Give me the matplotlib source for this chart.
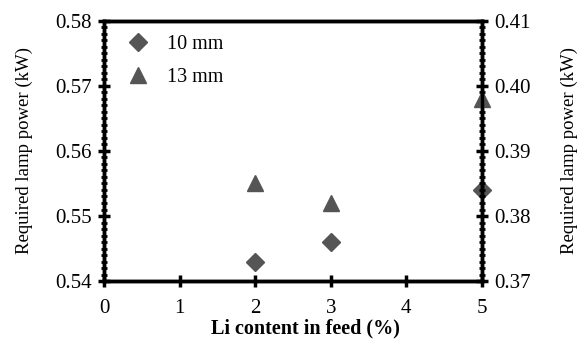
import numpy as np
import matplotlib.pyplot as plt
from matplotlib.ticker import MultipleLocator

plt.rcParams['font.family'] = ['Liberation Serif', 'DejaVu Serif']

li_content = [2, 3, 5]
power_10mm = [0.543, 0.546, 0.554]
power_13mm = [0.385, 0.382, 0.398]

gray = '#555555'

fig, ax = plt.subplots(figsize=(5.82, 3.47), dpi=100)
fig.subplots_adjust(left=0.179, right=0.828, top=0.94, bottom=0.19)
ax2 = ax.twinx()

p1, = ax.plot(li_content, power_10mm, 'D', color=gray, ms=9, clip_on=False,
              linestyle='none', label='10 mm')
p2, = ax2.plot(li_content, power_13mm, '^', color=gray, ms=12, clip_on=False,
               linestyle='none', label='13 mm')

ax.set_xlim(0, 5)
ax.set_ylim(0.54, 0.58)
ax2.set_ylim(0.37, 0.41)
ax.set_xticks(np.arange(0, 6, 1))
ax.set_yticks(np.arange(0.54, 0.5801, 0.01))
ax2.set_yticks(np.arange(0.37, 0.4101, 0.01))
ax.set_yticklabels(['0.54', '0.55', '0.56', '0.57', '0.58'])
ax2.set_yticklabels(['0.37', '0.38', '0.39', '0.40', '0.41'])
ax.yaxis.set_minor_locator(MultipleLocator(0.001))
ax2.yaxis.set_minor_locator(MultipleLocator(0.001))

for a in (ax, ax2):
    for s in a.spines.values():
        s.set_linewidth(2.5)
    a.tick_params(which='major', direction='inout', length=8, width=2.5,
                  labelsize=15, pad=5)
    a.tick_params(which='minor', direction='inout', length=4, width=2)
ax.tick_params(axis='x', pad=9)

ax.set_xlabel('Li content in feed (%)', fontsize=14.5, fontweight='bold',
              labelpad=0, x=0.534)
ax.set_ylabel('Required lamp power (kW)', fontsize=13.5, labelpad=16)
ax2.set_ylabel('Required lamp power (kW)', fontsize=13.5, rotation=90,
               labelpad=21)

ax.legend([p1, p2], ['10 mm', '13 mm'], loc='upper left', frameon=False,
          prop={'size': 14.5}, handlelength=1.0, handletextpad=0.95,
          borderpad=0.4, borderaxespad=0, labelspacing=0.72,
          bbox_to_anchor=(0.042, 0.978))

fig.savefig('out.png', dpi=100)
